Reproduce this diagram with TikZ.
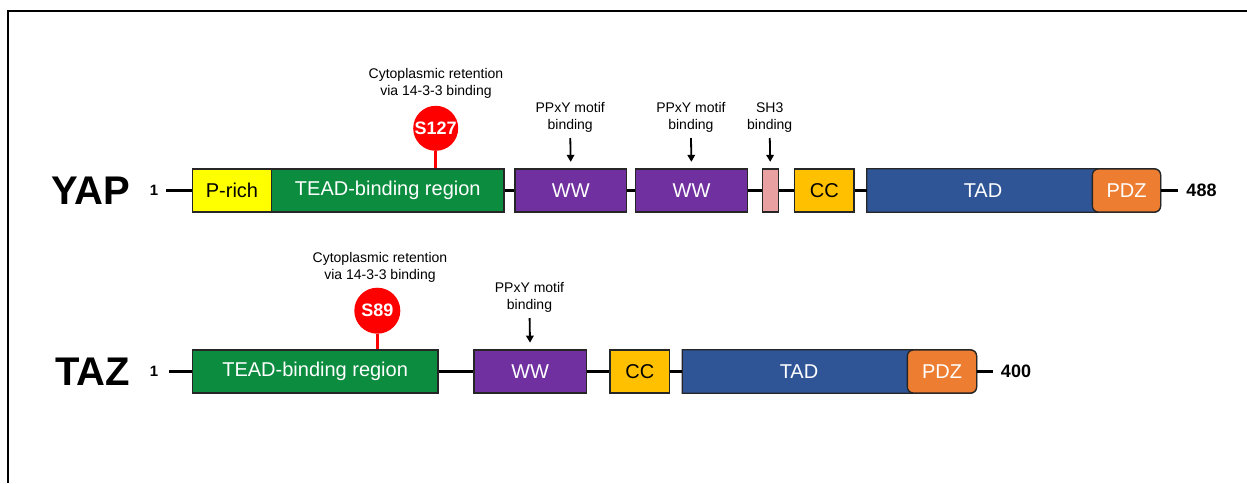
\documentclass[tikz,border=0pt]{standalone}
\usepackage{fontspec}
\setmainfont{Liberation Sans}
\usetikzlibrary{arrows.meta}
\definecolor{cyellow}{RGB}{255,255,0}
\definecolor{cgreen}{RGB}{11,140,62}
\definecolor{cpurple}{RGB}{112,48,160}
\definecolor{cpink}{RGB}{232,160,160}
\definecolor{ccc}{RGB}{255,192,0}
\definecolor{ctad}{RGB}{47,85,151}
\definecolor{cpdz}{RGB}{237,125,49}
\definecolor{cred}{RGB}{255,0,0}
\begin{document}
\begin{tikzpicture}[x=1pt,y=-1pt,
  dom/.style={draw=black!85, line width=1.3pt, inner sep=0pt, minimum height=43pt, anchor=west, font=\fontsize{20}{24}\selectfont},
  tadshape/.style={inner sep=0pt, minimum height=43pt, anchor=west},
  tadfill/.style={fill=ctad, draw=black!85, line width=1.3pt},
  pdzbox/.style={dom, fill=cpdz, text=white, rounded corners=6pt},
  backbone/.style={line width=3pt, black},
  phos/.style={circle, fill=cred, text=white, inner sep=0pt, font=\bfseries\fontsize{18}{20}\selectfont},
  stem/.style={line width=3pt, cred},
  note/.style={align=center, inner sep=0pt, anchor=south, font=\fontsize{14}{17.5}\selectfont},
  arr/.style={-{Triangle[length=7pt,width=7.5pt]}, line width=1.8pt},
  prot/.style={font=\bfseries\fontsize{40}{40}\selectfont, inner sep=0pt},
  startnum/.style={font=\bfseries\fontsize{15}{16}\selectfont, inner sep=0pt},
  endnum/.style={font=\bfseries\fontsize{18}{20}\selectfont, inner sep=0pt},
  tadtext/.style={text=white, font=\fontsize{20}{24}\selectfont, inner sep=0pt}
]
\useasboundingbox (0,0) rectangle (1247,483);
% frame
\draw[line width=2pt] (7.5,483) -- (7.5,11) -- (1247,11);

% ---------------- YAP ----------------
\node[prot] (yap) at (90.5,190.5) {YAP};
\node[startnum] (yn1) at (154,190.5) {1};
\coordinate (ys) at (166,190.5);
\node[dom, fill=cyellow, minimum width=79.3pt] (yprich) at (191.7,190.5) {P-rich};
\node[dom, fill=cgreen, text=white, minimum width=232.3pt] (ytead) at (271,190.5) {TEAD-binding region};
\node[dom, fill=cpurple, text=white, minimum width=111.7pt] (yww1) at (514.3,190.5) {WW};
\node[dom, fill=cpurple, text=white, minimum width=111.7pt] (yww2) at (635,190.5) {WW};
\node[dom, fill=cpink, minimum width=16pt] (ysh3) at (761.7,190.5) {};
\node[dom, fill=ccc, minimum width=59.3pt] (ycc) at (794,190.5) {CC};
\node[tadshape, minimum width=293.3pt] (ytad) at (866.7,190.5) {};
\path[tadfill] (ytad.south west) -- (ytad.north west) [rounded corners=6pt] -- (ytad.north east) -- (ytad.south east) [sharp corners] -- cycle;
\node[pdzbox, minimum width=68.3pt] (ypdz) at (1091.7,190.5) {PDZ};
\node[tadtext] (ytadt) at (983,190.5) {TAD};
\coordinate (ye) at (1177.7,190.5);
\node[endnum] (y488) at (1201.5,190.5) {488};
\draw[backbone] (ys) -- (yprich.west);
\draw[backbone] (ytead.east) -- (yww1.west);
\draw[backbone] (yww1.east) -- (yww2.west);
\draw[backbone] (yww2.east) -- (ysh3.west);
\draw[backbone] (ysh3.east) -- (ycc.west);
\draw[backbone] (ycc.east) -- (ytad.west);
\draw[backbone] (ypdz.east) -- (ye);

\node[phos, minimum size=45pt] (s127) at (435.7,128.3) {S127};
\draw[stem] (s127.south) -- (s127.south |- ytead.north);
\node[note] (ycyto) at (436,99) {Cytoplasmic retention\\via 14-3-3 binding};

\node[note] (yl1) at (570.2,133) {PPxY motif\\binding};
\node[note] (yl2) at (690.9,133) {PPxY motif\\binding};
\node[note] (yl3) at (769.7,133) {SH3\\binding};
\draw[arr, shorten <=5pt, shorten >=6.5pt] (yl1.south) -- (yww1.north);
\draw[arr, shorten <=5pt, shorten >=6.5pt] (yl2.south) -- (yww2.north);
\draw[arr, shorten <=5pt, shorten >=6.5pt] (yl3.south) -- (ysh3.north);

% ---------------- TAZ ----------------
\node[prot] (taz) at (92.5,371.5) {TAZ};
\node[startnum] (tn1) at (154,371.5) {1};
\coordinate (ts) at (169.3,371.5);
\node[dom, fill=cgreen, text=white, minimum width=245.6pt] (ttead) at (191.7,371.5) {TEAD-binding region};
\node[dom, fill=cpurple, text=white, minimum width=112.4pt] (tww) at (473.3,371.5) {WW};
\node[dom, fill=ccc, minimum width=59.7pt] (tcc) at (609.3,371.5) {CC};
\node[tadshape, minimum width=293.7pt] (ttad) at (682.3,371.5) {};
\path[tadfill] (ttad.south west) -- (ttad.north west) [rounded corners=6pt] -- (ttad.north east) -- (ttad.south east) [sharp corners] -- cycle;
\node[pdzbox, minimum width=69.3pt] (tpdz) at (906.7,371.5) {PDZ};
\node[tadtext] (ttadt) at (799,371.5) {TAD};
\coordinate (te) at (993.3,371.5);
\node[endnum] (t400) at (1016,371.5) {400};
\draw[backbone] (ts) -- (ttead.west);
\draw[backbone] (ttead.east) -- (tww.west);
\draw[backbone] (tww.east) -- (tcc.west);
\draw[backbone] (tcc.east) -- (ttad.west);
\draw[backbone] (tpdz.east) -- (te);

\node[phos, minimum size=46pt] (s89) at (377.3,310.7) {S89};
\draw[stem] (s89.south) -- (s89.south |- ttead.north);
\node[note] (tcyto) at (380,283) {Cytoplasmic retention\\via 14-3-3 binding};

\node[note] (tl1) at (529.5,313) {PPxY motif\\binding};
\draw[arr, shorten <=5pt, shorten >=6.7pt] (tl1.south) -- (tww.north);
\end{tikzpicture}
\end{document}
